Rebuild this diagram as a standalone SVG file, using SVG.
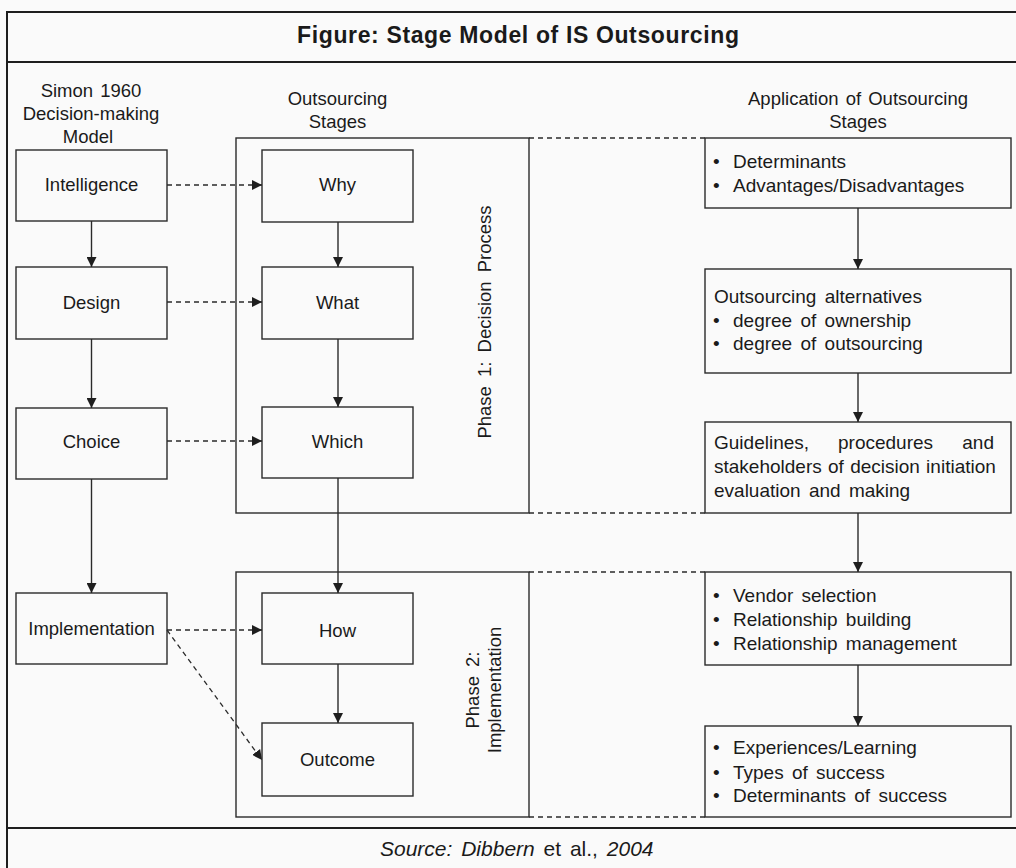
<svg xmlns="http://www.w3.org/2000/svg" width="1016" height="868" viewBox="0 0 1016 868">
<defs>
<marker id="ah" markerUnits="userSpaceOnUse" markerWidth="11" markerHeight="10" refX="10" refY="5" orient="auto">
<path d="M0,0 L10,5 L0,10 Z" fill="#1e1e1e"/>
</marker>
<style>
.frame{fill:none;stroke:#1e1e1e;stroke-width:2}
.box{fill:none;stroke:#2a2a2a;stroke-width:1.4}
.dash{fill:none;stroke:#2a2a2a;stroke-width:1.4;stroke-dasharray:5 4}
.arr{fill:none;stroke:#2a2a2a;stroke-width:1.4;marker-end:url(#ah)}
.darr{fill:none;stroke:#2a2a2a;stroke-width:1.3;stroke-dasharray:5 4;marker-end:url(#ah)}
text{font-family:"Liberation Sans",Arial,sans-serif;fill:#1a1a1a}
.t{font-size:18.5px;text-anchor:middle}
.h{font-size:18.5px;text-anchor:middle;word-spacing:2px}
.r{font-size:19px;word-spacing:3px}
.ph{font-size:18.5px;text-anchor:middle;word-spacing:4px}
.title{font-size:23px;font-weight:bold;text-anchor:middle}
.src{font-size:21px;word-spacing:3px}
.it{font-style:italic}
</style>
</defs>
<rect x="0" y="0" width="1016" height="868" fill="#fafafa"/>

<g id="frame">
<rect class="frame" x="7" y="12" width="1020" height="870"/>
<line class="frame" x1="7" y1="62" x2="1016" y2="62"/>
<line class="frame" x1="7" y1="828" x2="1016" y2="828"/>
</g>

<g id="title">
<text class="title" x="518" y="43" textLength="442" lengthAdjust="spacing">Figure: Stage Model of IS Outsourcing</text>
</g>

<g id="headers">
<text class="h" x="91" y="97">Simon 1960</text>
<text class="h" x="91" y="120">Decision-making</text>
<text class="h" x="88" y="143">Model</text>
<text class="h" x="337.5" y="105">Outsourcing</text>
<text class="h" x="337.5" y="128">Stages</text>
<text class="h" x="858" y="105">Application of Outsourcing</text>
<text class="h" x="858" y="128">Stages</text>
</g>

<g id="n-phase1">
<rect class="box" x="236" y="138" width="293" height="375"/>
<line class="dash" x1="529" y1="138" x2="705" y2="138"/>
<line class="dash" x1="529" y1="513" x2="705" y2="513"/>
<text class="ph" transform="translate(491,322) rotate(-90)">Phase 1: Decision Process</text>
</g>

<g id="n-phase2">
<rect class="box" x="236" y="572" width="293" height="245"/>
<line class="dash" x1="529" y1="572" x2="705" y2="572"/>
<line class="dash" x1="529" y1="817" x2="705" y2="817"/>
<text class="ph" transform="translate(479,690) rotate(-90)">Phase 2:</text>
<text class="ph" transform="translate(501,690) rotate(-90)">Implementation</text>
</g>

<g id="n-intelligence"><rect class="box" x="16" y="150" width="151" height="71"/><text class="t" x="91.5" y="191">Intelligence</text></g>
<g id="n-design"><rect class="box" x="16" y="267" width="151" height="72"/><text class="t" x="91.5" y="309">Design</text></g>
<g id="n-choice"><rect class="box" x="16" y="408" width="151" height="71"/><text class="t" x="91.5" y="448">Choice</text></g>
<g id="n-implementation"><rect class="box" x="16" y="593" width="151" height="71"/><text class="t" x="91.5" y="635">Implementation</text></g>

<g id="n-why"><rect class="box" x="262" y="150" width="151" height="72"/><text class="t" x="337.5" y="191">Why</text></g>
<g id="n-what"><rect class="box" x="262" y="267" width="151" height="72"/><text class="t" x="337.5" y="309">What</text></g>
<g id="n-which"><rect class="box" x="262" y="407" width="151" height="71"/><text class="t" x="337.5" y="448">Which</text></g>
<g id="n-how"><rect class="box" x="262" y="593" width="151" height="71"/><text class="t" x="337.5" y="637">How</text></g>
<g id="n-outcome"><rect class="box" x="262" y="723" width="151" height="73"/><text class="t" x="337.5" y="766">Outcome</text></g>

<g id="n-determinants">
<rect class="box" x="705" y="138" width="306" height="70"/>
<text class="r" x="713" y="168">•</text><text class="r" x="733" y="168">Determinants</text>
<text class="r" x="713" y="192">•</text><text class="r" x="733" y="192">Advantages/Disadvantages</text>
</g>
<g id="n-alternatives">
<rect class="box" x="705" y="269" width="306" height="104"/>
<text class="r" x="714" y="303">Outsourcing alternatives</text>
<text class="r" x="713" y="327">•</text><text class="r" x="733" y="327">degree of ownership</text>
<text class="r" x="713" y="350">•</text><text class="r" x="733" y="350">degree of outsourcing</text>
</g>
<g id="n-guidelines">
<rect class="box" x="705" y="422" width="306" height="91"/>
<text class="r" x="714" y="449">Guidelines,</text>
<text class="r" x="838" y="449">procedures</text>
<text class="r" x="994" y="449" text-anchor="end">and</text>
<text class="r" x="714" y="473" style="word-spacing:1px">stakeholders of decision initiation</text>
<text class="r" x="714" y="497">evaluation and making</text>
</g>
<g id="n-vendor">
<rect class="box" x="705" y="572" width="306" height="93"/>
<text class="r" x="713" y="602">•</text><text class="r" x="733" y="602">Vendor selection</text>
<text class="r" x="713" y="626">•</text><text class="r" x="733" y="626">Relationship building</text>
<text class="r" x="713" y="650">•</text><text class="r" x="733" y="650">Relationship management</text>
</g>
<g id="n-experiences">
<rect class="box" x="705" y="726" width="306" height="91"/>
<text class="r" x="713" y="754">•</text><text class="r" x="733" y="754">Experiences/Learning</text>
<text class="r" x="713" y="779">•</text><text class="r" x="733" y="779">Types of success</text>
<text class="r" x="713" y="802">•</text><text class="r" x="733" y="802">Determinants of success</text>
</g>

<g id="connectors">
<line class="arr" x1="91.5" y1="221" x2="91.5" y2="267"/>
<line class="arr" x1="91.5" y1="339" x2="91.5" y2="408"/>
<line class="arr" x1="91.5" y1="479" x2="91.5" y2="593"/>
<line class="arr" x1="338" y1="222" x2="338" y2="267"/>
<line class="arr" x1="338" y1="339" x2="338" y2="407"/>
<line class="arr" x1="338" y1="478" x2="338" y2="593"/>
<line class="arr" x1="338" y1="664" x2="338" y2="723"/>
<line class="arr" x1="858" y1="208" x2="858" y2="269"/>
<line class="arr" x1="858" y1="373" x2="858" y2="422"/>
<line class="arr" x1="858" y1="513" x2="858" y2="572"/>
<line class="arr" x1="858" y1="665" x2="858" y2="726"/>
<line class="darr" x1="167" y1="185" x2="262" y2="185"/>
<line class="darr" x1="167" y1="302" x2="262" y2="302"/>
<line class="darr" x1="167" y1="441" x2="262" y2="441"/>
<line class="darr" x1="167" y1="630" x2="262" y2="630"/>
<line class="darr" x1="167" y1="630" x2="262" y2="760"/>
</g>

<g id="source">
<text class="src" x="380" y="856"><tspan class="it">Source: Dibbern</tspan> et al., <tspan class="it">2004</tspan></text>
</g>
</svg>
